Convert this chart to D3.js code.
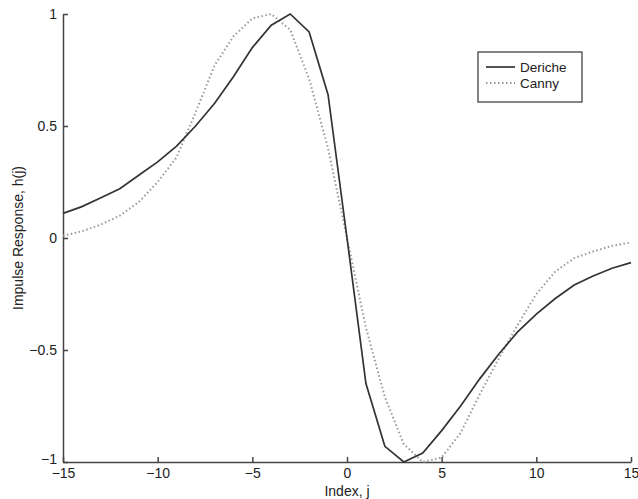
<!DOCTYPE html>
<html lang="en">
<head>
    <meta charset="UTF-8">
    <title>Impulse Response</title>
    <script src="https://cdn.jsdelivr.net/npm/d3@7"></script>
</head>
<body>
<style>
    body {
        margin: 0;
        background-color: white;
    }
    svg * {
        font-family: "Liberation Sans", Arial, sans-serif;
    }
    .axis path,
    .axis line {
        fill: none;
        stroke: #444;
        stroke-width: 1.5;
    }
    .axis text {
        font-size: 14px;
        fill: #222;
    }
    .deriche {
        fill: none;
        stroke: #333;
        stroke-width: 1.7;
    }
    .canny {
        fill: none;
        stroke: #999;
        stroke-width: 2;
        stroke-dasharray: 1.5, 2.5;
    }
</style>

<svg width="638" height="499"></svg>

<script>
    // sample index j
    var index = [-15, -14, -13, -12, -11, -10, -9, -8, -7, -6, -5, -4, -3, -2, -1, 0,
        1, 2, 3, 4, 5, 6, 7, 8, 9, 10, 11, 12, 13, 14, 15];
    // values
    var deriche = [0.11, 0.14, 0.18, 0.22, 0.28, 0.34, 0.41, 0.50, 0.60, 0.72, 0.85, 0.95, 1.0, 0.92, 0.64, 0,
        -0.65, -0.93, -1.0, -0.96, -0.86, -0.75, -0.63, -0.52, -0.42, -0.34, -0.27, -0.21, -0.17, -0.135, -0.11];
    var canny = [0.01, 0.03, 0.06, 0.10, 0.16, 0.25, 0.36, 0.56, 0.77, 0.90, 0.98, 1.0, 0.93, 0.71, 0.40, 0,
        -0.40, -0.71, -0.92, -1.0, -0.98, -0.87, -0.70, -0.54, -0.39, -0.25, -0.15, -0.09, -0.06, -0.035, -0.02];
    var xTicks = [-15, -10, -5, 0, 5, 10, 15];
    var yTicks = [-1, -0.5, 0, 0.5, 1];
    var legendNames = ["Deriche", "Canny"];

    var svg = d3.select("svg");
    var plotLeft = 63, plotRight = 631, plotTop = 14, plotBottom = 462;

    var getX = d3.scaleLinear()
            .domain([-15, 15])
            .range([plotLeft, plotRight]);
    var getY = d3.scaleLinear()
            .domain([-1, 1])
            .range([plotBottom, plotTop]);

    // inward ticks, matlab style
    var axisX = d3.axisTop(getX)
            .tickValues(xTicks)
            .tickSize(5)
            .tickSizeOuter(0)
            .tickFormat(d3.format("d"));
    var axisY = d3.axisRight(getY)
            .tickValues(yTicks)
            .tickSize(5)
            .tickSizeOuter(0)
            .tickFormat(d3.format("~g"));

    var gx = svg.append("g")
            .attr("class", "axis")
            .attr("transform", "translate(0," + plotBottom + ")")
            .call(axisX);
    gx.selectAll("text")
            .attr("y", 6)
            .attr("dy", "0.71em");

    var gy = svg.append("g")
            .attr("class", "axis")
            .attr("transform", "translate(" + plotLeft + ",0)")
            .call(axisY);
    gy.selectAll("text")
            .attr("x", -6)
            .attr("text-anchor", "end")
            .attr("dy", function (d) {
                return d == -1 ? "0.1em" : "0.32em";
            });

    svg.append("text")
            .text("Index, j")
            .attr("x", (plotLeft + plotRight) / 2)
            .attr("y", 496)
            .attr("text-anchor", "middle")
            .attr("font-size", "14px")
            .attr("fill", "#222");
    svg.append("text")
            .text("Impulse Response, h(j)")
            .attr("transform", "translate(23," + ((plotTop + plotBottom) / 2) + ") rotate(-90)")
            .attr("text-anchor", "middle")
            .attr("font-size", "14px")
            .attr("fill", "#222");

    var line = d3.line()
            .x(function (d) { return getX(d[0]); })
            .y(function (d) { return getY(d[1]); });

    svg.append("path")
            .datum(d3.zip(index, canny))
            .attr("class", "canny")
            .attr("d", line);
    svg.append("path")
            .datum(d3.zip(index, deriche))
            .attr("class", "deriche")
            .attr("d", line);

    // legend
    var legend = svg.append("g")
            .attr("transform", "translate(478,52)");
    legend.append("rect")
            .attr("width", 104)
            .attr("height", 50)
            .attr("fill", "white")
            .attr("stroke", "#444")
            .attr("stroke-width", 1.3);
    legend.selectAll(".legendItem")
            .data(legendNames)
            .enter()
            .append("g")
            .attr("class", "legendItem")
            .each(function (d, i) {
                var g = d3.select(this);
                g.append("line")
                        .attr("class", i == 0 ? "deriche" : "canny")
                        .attr("x1", 8)
                        .attr("x2", 37)
                        .attr("y1", 15 + i * 16)
                        .attr("y2", 15 + i * 16);
                g.append("text")
                        .text(d)
                        .attr("x", 42)
                        .attr("y", 15 + i * 16)
                        .attr("dy", "0.35em")
                        .attr("font-size", "13.5px")
                        .attr("fill", "#222");
            });
</script>
</body>
</html>
